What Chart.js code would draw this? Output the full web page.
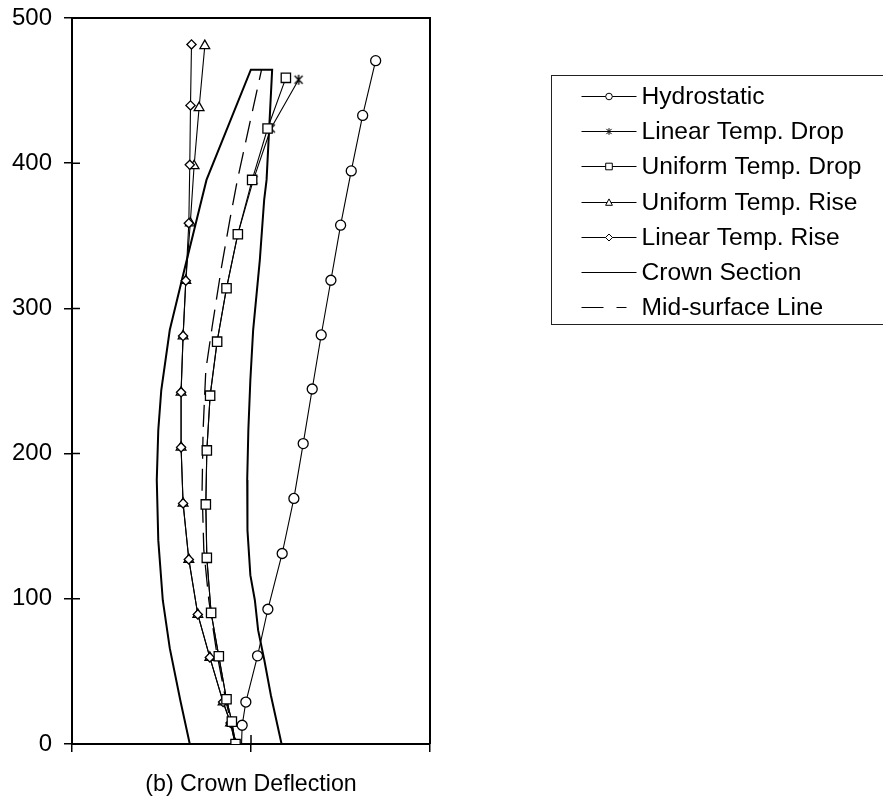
<!DOCTYPE html>
<html>
<head>
<meta charset="utf-8">
<script src="https://cdn.jsdelivr.net/npm/chart.js@4.4.1/dist/chart.umd.min.js"></script>
<style>
  html, body { margin: 0; padding: 0; background: #ffffff; }
  #wrap { width: 883px; height: 801px; position: relative; }
</style>
</head>
<body>
<div id="wrap"><canvas id="chart" width="883" height="801"></canvas></div>
<script>
// Crown cantilever deflection profiles (elevation vs. horizontal position)
const seriesNames = ['Hydrostatic', 'Linear Temp. Drop', 'Uniform Temp. Drop',
  'Uniform Temp. Rise', 'Linear Temp. Rise', 'Crown Section', 'Mid-surface Line'];
const xTitle = '(b) Crown Deflection';
const yTickValues = [0, 100, 200, 300, 400, 500];
const xTickValues = [-50, 0, 50];

const hydroX = [-2.64, -2.47, -1.44, 1.83, 4.71, 8.71, 11.98, 14.58, 17.10, 19.61, 22.32, 25.03, 28.00, 31.19, 34.82];
const hydroY = [0, 12.9, 28.9, 60.7, 92.8, 131.2, 169.1, 206.9, 244.5, 281.7, 319.4, 357.3, 394.7, 432.9, 470.6];

const linDropX = [-4.32, -5.35, -6.84, -8.99, -11.14, -12.34, -12.62, -12.34, -11.42, -9.46, -6.84, -3.68, 0.66, 5.55, 13.29];
const linDropY = [0, 15.4, 30.8, 60.4, 90.3, 128.2, 165.0, 202.2, 239.9, 277.1, 313.9, 351.1, 388.5, 423.9, 457.5];

const uniDropX = [-4.32, -5.35, -6.84, -8.99, -11.14, -12.34, -12.62, -12.34, -11.42, -9.46, -6.84, -3.68, 0.32, 4.63, 9.74];
const uniDropY = [0, 15.4, 30.8, 60.4, 90.3, 128.2, 165.0, 202.2, 239.9, 277.1, 313.9, 351.1, 388.5, 423.9, 458.8];

const uniRiseX = [-4.43, -5.72, -7.79, -11.50, -14.86, -17.37, -18.97, -19.53, -19.53, -18.97, -18.21, -16.96, -15.89, -14.50, -12.90];
const uniRiseY = [0, 14.5, 28.9, 59.6, 89.2, 127.1, 165.7, 204.3, 242.2, 281.0, 319.1, 358.7, 398.2, 438.2, 480.9];

const linRiseX = [-4.43, -5.72, -7.79, -11.50, -14.86, -17.37, -18.97, -19.53, -19.53, -18.97, -18.21, -17.37, -17.10, -16.90, -16.62];
const linRiseY = [0, 14.5, 28.9, 59.6, 89.2, 127.1, 165.7, 204.3, 242.2, 281.0, 319.1, 358.7, 398.9, 439.8, 481.8];

// Crown section outline: upstream face (bottom to top), crest, downstream face (top to bottom), base
const crownX = [-17.10, -19.75, -22.69, -24.64, -25.90, -26.32, -25.90, -25.06, -22.69, -18.63, -13.80, -12.43, -0.04,
  5.91, 4.35, 3.68, 2.47, 0.60, -0.18, -0.74, -1.06, -0.99, -0.18, 1.08, 1.99, 3.73, 5.55, 8.54, -17.10];
const crownY = [0, 30.1, 66.0, 99.0, 140.4, 181.8, 216.2, 243.8, 285.1, 326.5, 374.8, 388.5, 464.4,
  464.4, 388.5, 374.8, 333.4, 285.1, 250.7, 216.2, 181.8, 147.3, 116.3, 99.0, 78.4, 57.7, 33.6, 0, 0];

const midX = [-4.24, -7.03, -9.69, -11.78, -13.18, -13.66, -13.38, -12.62, -10.86, -8.23, -5.91, -3.79, -0.43, 2.95];
const midY = [0, 30.1, 64.6, 99.0, 133.5, 174.9, 216.2, 257.6, 287.2, 328.6, 361.0, 388.5, 426.5, 464.4];

const FONT = "'Liberation Sans', Arial, Helvetica, sans-serif";
const INK = '#000000';

function pts(xs, ys) { return xs.map((x, i) => ({ x: x, y: ys[i] })); }

// Asterisk marker used for the linear temperature drop case
function makeAsterisk(size, lw) {
  const c = document.createElement('canvas');
  c.width = size; c.height = size;
  const g = c.getContext('2d');
  const m = size / 2, r = size / 2 - 1, d = r * 0.8;
  g.strokeStyle = INK; g.lineWidth = lw;
  g.beginPath();
  g.moveTo(m - d, m - d); g.lineTo(m + d, m + d);
  g.moveTo(m + d, m - d); g.lineTo(m - d, m + d);
  g.moveTo(m, m - r); g.lineTo(m, m + r);
  g.stroke();
  return c;
}
const asterisk = makeAsterisk(12, 1.4);

function series(label, xs, ys, style, radius, order) {
  return {
    label: label, data: pts(xs, ys), showLine: true,
    borderColor: INK, borderWidth: 1.1, backgroundColor: '#ffffff',
    pointStyle: style, pointRadius: radius, pointBorderColor: INK,
    pointBackgroundColor: '#ffffff', pointBorderWidth: 1.3, order: order
  };
}

const hydro = series(seriesNames[0], hydroX, hydroY, 'circle', 5.0, 1);
// the footing point of the hydrostatic curve carries no marker
hydro.pointRadius = hydroX.map((v, i) => (i === 0 ? 0 : 5.0));

const datasets = [
  hydro,
  series(seriesNames[1], linDropX, linDropY, asterisk, 5, 3),
  series(seriesNames[2], uniDropX, uniDropY, 'rect', 6.6, 2),
  series(seriesNames[3], uniRiseX, uniRiseY, 'triangle', 5.6, 5),
  series(seriesNames[4], linRiseX, linRiseY, 'rectRot', 4.6, 4),
  { label: seriesNames[5], data: pts(crownX, crownY), showLine: true, borderColor: INK,
    borderWidth: 2, pointRadius: 0, order: 6 },
  { label: seriesNames[6], data: pts(midX, midY), showLine: true, borderColor: INK,
    borderWidth: 1.3, borderDash: [22, 10], pointRadius: 0, order: 7 }
];

// Plot frame (top/right edges) and inward halves of the tick marks
const frame = {
  id: 'frame',
  afterDraw(chart) {
    const { ctx, chartArea: a, scales } = chart;
    ctx.save();
    ctx.strokeStyle = INK;
    ctx.lineWidth = 2;
    ctx.beginPath();
    ctx.moveTo(a.left, a.top); ctx.lineTo(a.right, a.top); ctx.lineTo(a.right, a.bottom);
    ctx.stroke();
    ctx.lineWidth = 1.5;
    ctx.beginPath();
    yTickValues.forEach(v => {
      const y = scales.y.getPixelForValue(v);
      ctx.moveTo(a.left, y); ctx.lineTo(a.left + 8, y);
    });
    const xm = scales.x.getPixelForValue(xTickValues[1]);
    ctx.moveTo(xm, a.bottom); ctx.lineTo(xm, a.bottom - 9);
    ctx.stroke();
    ctx.restore();
  }
};

function drawMarker(ctx, kind, x, y) {
  ctx.save();
  ctx.strokeStyle = INK; ctx.fillStyle = '#ffffff'; ctx.lineWidth = 1;
  ctx.beginPath();
  if (kind === 'circle') {
    ctx.arc(x, y, 3.3, 0, Math.PI * 2);
    ctx.fill(); ctx.stroke();
  } else if (kind === 'rect') {
    ctx.rect(x - 3.3, y - 3.3, 6.6, 6.6);
    ctx.fill(); ctx.stroke();
  } else if (kind === 'triangle') {
    ctx.moveTo(x, y - 3.6); ctx.lineTo(x + 3.4, y + 2.8); ctx.lineTo(x - 3.4, y + 2.8); ctx.closePath();
    ctx.fill(); ctx.stroke();
  } else if (kind === 'diamond') {
    ctx.moveTo(x, y - 3.5); ctx.lineTo(x + 3.5, y); ctx.lineTo(x, y + 3.5); ctx.lineTo(x - 3.5, y); ctx.closePath();
    ctx.fill(); ctx.stroke();
  } else if (kind === 'star') {
    ctx.moveTo(x - 2.6, y - 2.6); ctx.lineTo(x + 2.6, y + 2.6);
    ctx.moveTo(x + 2.6, y - 2.6); ctx.lineTo(x - 2.6, y + 2.6);
    ctx.moveTo(x, y - 3.3); ctx.lineTo(x, y + 3.3);
    ctx.stroke();
  }
  ctx.restore();
}

// Boxed legend beside the plot
const legendBox = {
  id: 'legendBox',
  afterDraw(chart) {
    const ctx = chart.ctx;
    const kinds = ['circle', 'star', 'rect', 'triangle', 'diamond', 'solid', 'dash'];
    const left = 551.5, top = 75.5, x0 = 581.5, x1 = 636.5, xm = 609, tx = 641.5;
    const rowY0 = 96, rowStep = 35.2;
    ctx.save();
    ctx.strokeStyle = '#222222'; ctx.lineWidth = 1;
    ctx.strokeRect(left, top, 360, 249);
    ctx.font = '24.6px ' + FONT;
    ctx.fillStyle = INK;
    ctx.textAlign = 'left';
    ctx.textBaseline = 'middle';
    seriesNames.forEach((name, i) => {
      const y = Math.round(rowY0 + i * rowStep) + 0.5;
      const k = kinds[i];
      ctx.strokeStyle = INK;
      ctx.lineWidth = 1;
      ctx.beginPath();
      if (k === 'dash') {
        ctx.moveTo(x0, y); ctx.lineTo(x0 + 22, y);
        ctx.moveTo(x0 + 35, y); ctx.lineTo(x0 + 45, y);
      } else {
        ctx.moveTo(x0, y); ctx.lineTo(x1, y);
      }
      ctx.stroke();
      if (k !== 'solid' && k !== 'dash') drawMarker(ctx, k, xm, y);
      ctx.fillText(name, tx, y + 1);
    });
    ctx.restore();
  }
};

new Chart(document.getElementById('chart').getContext('2d'), {
  type: 'scatter',
  data: { datasets: datasets },
  options: {
    responsive: false,
    animation: false,
    events: [],
    layout: { padding: { left: 0, top: 18, right: 453, bottom: 0 } },
    plugins: { legend: { display: false }, tooltip: { enabled: false } },
    scales: {
      x: {
        type: 'linear', min: xTickValues[0], max: xTickValues[2],
        afterBuildTicks: s => { s.ticks = xTickValues.map(v => ({ value: v })); },
        ticks: { display: false },
        grid: { drawOnChartArea: false, drawTicks: true, tickLength: 8, color: INK, lineWidth: 1.5 },
        border: { display: true, color: INK, width: 2 },
        title: { display: true, text: xTitle, color: INK, font: { family: FONT, size: 23.2 },
                 padding: { top: 0, bottom: 2 } },
        afterFit: s => { s.height = 57; s.paddingLeft = 0; s.paddingRight = 0; }
      },
      y: {
        type: 'linear', min: 0, max: 500,
        afterBuildTicks: s => { s.ticks = yTickValues.map(v => ({ value: v })); },
        ticks: { color: INK, font: { family: FONT, size: 24 }, padding: 12 },
        grid: { drawOnChartArea: false, drawTicks: true, tickLength: 8, color: INK, lineWidth: 1.5 },
        border: { display: true, color: INK, width: 2 },
        afterFit: s => { s.width = 72; s.paddingTop = 0; s.paddingBottom = 0; }
      }
    }
  },
  plugins: [frame, legendBox]
});
</script>
</body>
</html>
